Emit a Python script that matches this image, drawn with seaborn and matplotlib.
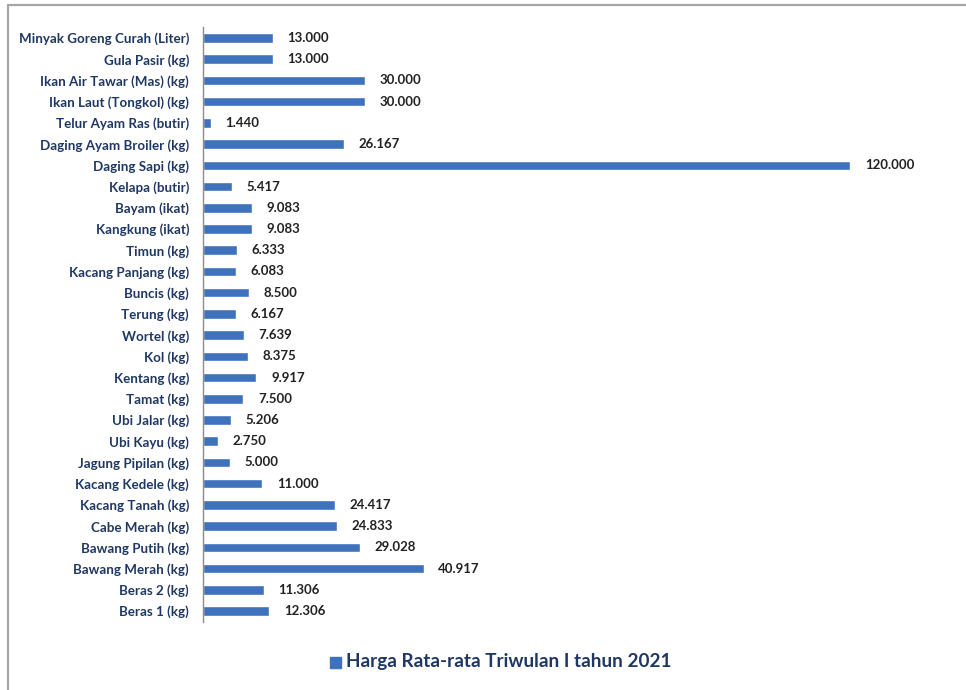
import numpy as np
import pandas as pd
import matplotlib
matplotlib.use("Agg")
import matplotlib.pyplot as plt
import seaborn as sns
from matplotlib.patches import Rectangle

# data (urutan dari atas ke bawah)
komoditas = [
    "Minyak Goreng Curah (Liter)", "Gula Pasir (kg)", "Ikan Air Tawar (Mas) (kg)",
    "Ikan Laut (Tongkol) (kg)", "Telur Ayam Ras (butir)", "Daging Ayam Broiler (kg)",
    "Daging Sapi (kg)", "Kelapa (butir)", "Bayam (ikat)", "Kangkung (ikat)",
    "Timun (kg)", "Kacang Panjang (kg)", "Buncis (kg)", "Terung (kg)", "Wortel (kg)",
    "Kol (kg)", "Kentang (kg)", "Tamat (kg)", "Ubi Jalar (kg)", "Ubi Kayu (kg)",
    "Jagung Pipilan (kg)", "Kacang Kedele (kg)", "Kacang Tanah (kg)",
    "Cabe Merah (kg)", "Bawang Putih (kg)", "Bawang Merah (kg)",
    "Beras 2 (kg)", "Beras 1 (kg)",
]
harga = [
    13000, 13000, 30000, 30000, 1440, 26167, 120000, 5417, 9083, 9083,
    6333, 6083, 8500, 6167, 7639, 8375, 9917, 7500, 5206, 2750,
    5000, 11000, 24417, 24833, 29028, 40917, 11306, 12306,
]
judul_legend = "Harga Rata-rata Triwulan I tahun 2021"

df = pd.DataFrame({"Komoditas": komoditas, "Harga": harga})

sns.set_style("white")
plt.rcParams["font.family"] = ["Lato", "DejaVu Sans"]

biru = "#3F72BC"
navy = "#1F3763"

fig = plt.figure(figsize=(9.66, 6.9), dpi=100)
W, H = 966, 690
ax = fig.add_axes([203 / W, 1 - 621.6 / H, (958 - 203) / W, (621.6 - 27.4) / H])

sns.barplot(data=df, y="Komoditas", x="Harga", orient="h", color=biru,
            width=0.45, saturation=1, ax=ax)

ax.set_xlim(0, 140000)
ax.set_ylim(len(komoditas) - 0.5, -0.5)
ax.set_xlabel("")
ax.set_ylabel("")
ax.set_xticks([])

# label nilai
for i, v in enumerate(harga):
    teks = f"{v:,}".replace(",", ".")
    ax.text(v + 2700, i, teks, va="center", ha="left", fontsize=9.5,
            fontweight="bold", color="#222222")

# tick kategori
ax.tick_params(axis="y", which="major", length=0, labelsize=9.6, pad=10,
               labelcolor=navy)
for lbl in ax.get_yticklabels():
    lbl.set_fontweight("bold")
ax.set_yticks(np.arange(-0.5, len(komoditas), 1), minor=True)
ax.tick_params(axis="y", which="minor", length=4, color="#8C8C8C", width=1)

for s in ["top", "right", "bottom"]:
    ax.spines[s].set_visible(False)
ax.spines["left"].set_color("#8C8C8C")
ax.spines["left"].set_linewidth(1)

# legend
fig.patches.append(Rectangle((330 / W, 1 - 668 / H), 11 / W, 11 / H,
                             transform=fig.transFigure, color=biru))
fig.text(346 / W, 1 - 662 / H, judul_legend, ha="left", va="center",
         fontsize=13.6, fontweight="bold", color=navy)

# bingkai
fig.add_artist(plt.Line2D([8 / W, 1], [1 - 5 / H, 1 - 5 / H],
                          transform=fig.transFigure, color="#A6A6A6", lw=1.6))
fig.add_artist(plt.Line2D([8 / W, 8 / W], [0, 1 - 5 / H],
                          transform=fig.transFigure, color="#A6A6A6", lw=1.6))

fig.savefig("out.png", dpi=100)
